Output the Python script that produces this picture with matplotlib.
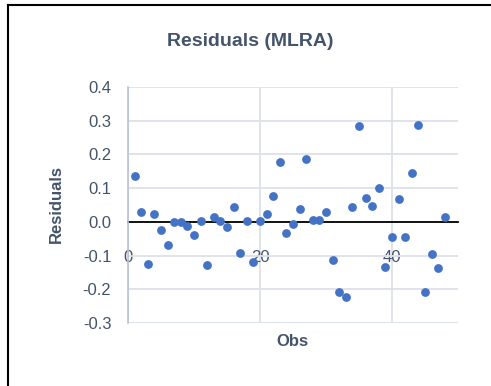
import matplotlib
matplotlib.use("Agg")
from matplotlib import pyplot as plt
from matplotlib.lines import Line2D

obs = list(range(1, 49))
residuals = [0.135, 0.030, -0.125, 0.022, -0.023, -0.069, 0.000, 0.000,
             -0.011, -0.039, 0.002, -0.128, 0.014, 0.002, -0.016, 0.043,
             -0.091, 0.002, -0.118, 0.004, 0.023, 0.076, 0.178, -0.033,
             -0.005, 0.038, 0.187, 0.006, 0.006, 0.028, -0.114, -0.209,
             -0.222, 0.044, 0.283, 0.070, 0.048, 0.100, -0.134, -0.044,
             0.067, -0.044, 0.145, 0.288, -0.209, -0.096, -0.137, 0.015]

y_ticks = [0.4, 0.3, 0.2, 0.1, 0.0, -0.1, -0.2, -0.3]
x_ticks = [0, 20, 40]

text_col = '#44546A'
grid_col = '#DDE1E8'
plt.rcParams['font.family'] = ['Liberation Sans', 'DejaVu Sans']

fig = plt.figure(figsize=(4.91, 3.86), dpi=100)
ax = fig.add_axes([128 / 491, 1 - 323 / 386, 330 / 491, 236 / 386])

ax.scatter(obs, residuals, s=40, color='#4472C4', zorder=3, linewidths=0)

ax.set_xlim(0, 50)
ax.set_ylim(-0.3, 0.4)
ax.set_yticks(y_ticks)
ax.set_yticklabels([f'{v:.1f}' for v in y_ticks])
ax.set_xticks(x_ticks)
ax.grid(True, color=grid_col, linewidth=1.3, zorder=0)

for side in ['top', 'right']:
    ax.spines[side].set_visible(False)
ax.spines['left'].set_color('#B8C2D6')
ax.spines['left'].set_linewidth(1.2)
ax.spines['bottom'].set_position(('data', 0))
ax.spines['bottom'].set_color('black')
ax.spines['bottom'].set_linewidth(1.3)
ax.spines['bottom'].set_zorder(2)

# gridline along the bottom edge
ax.axhline(-0.3, color=grid_col, linewidth=1.3, zorder=0)

ax.tick_params(axis='both', length=0, labelsize=12, labelcolor=text_col)
ax.tick_params(axis='x', pad=20)
ax.tick_params(axis='y', pad=12)

fig.text(250 / 491, 1 - 42 / 386, 'Residuals (MLRA)', ha='center', va='center',
         fontsize=14, fontweight='bold', color=text_col)
fig.text(56 / 491, 1 - 204 / 386, 'Residuals', ha='center', va='center',
         rotation=90, fontsize=12, fontweight='bold', color=text_col)
fig.text(292 / 491, 1 - 342 / 386, 'Obs', ha='center', va='center',
         fontsize=12, fontweight='bold', color=text_col)

# outer frame (top and left edges visible)
fig.add_artist(Line2D([8 / 491, 8 / 491], [0, 1 - 5 / 386], color='black',
                      linewidth=1.5, transform=fig.transFigure))
fig.add_artist(Line2D([8 / 491, 1], [1 - 5 / 386, 1 - 5 / 386], color='black',
                      linewidth=1.5, transform=fig.transFigure))

fig.savefig('out.png', dpi=100)
